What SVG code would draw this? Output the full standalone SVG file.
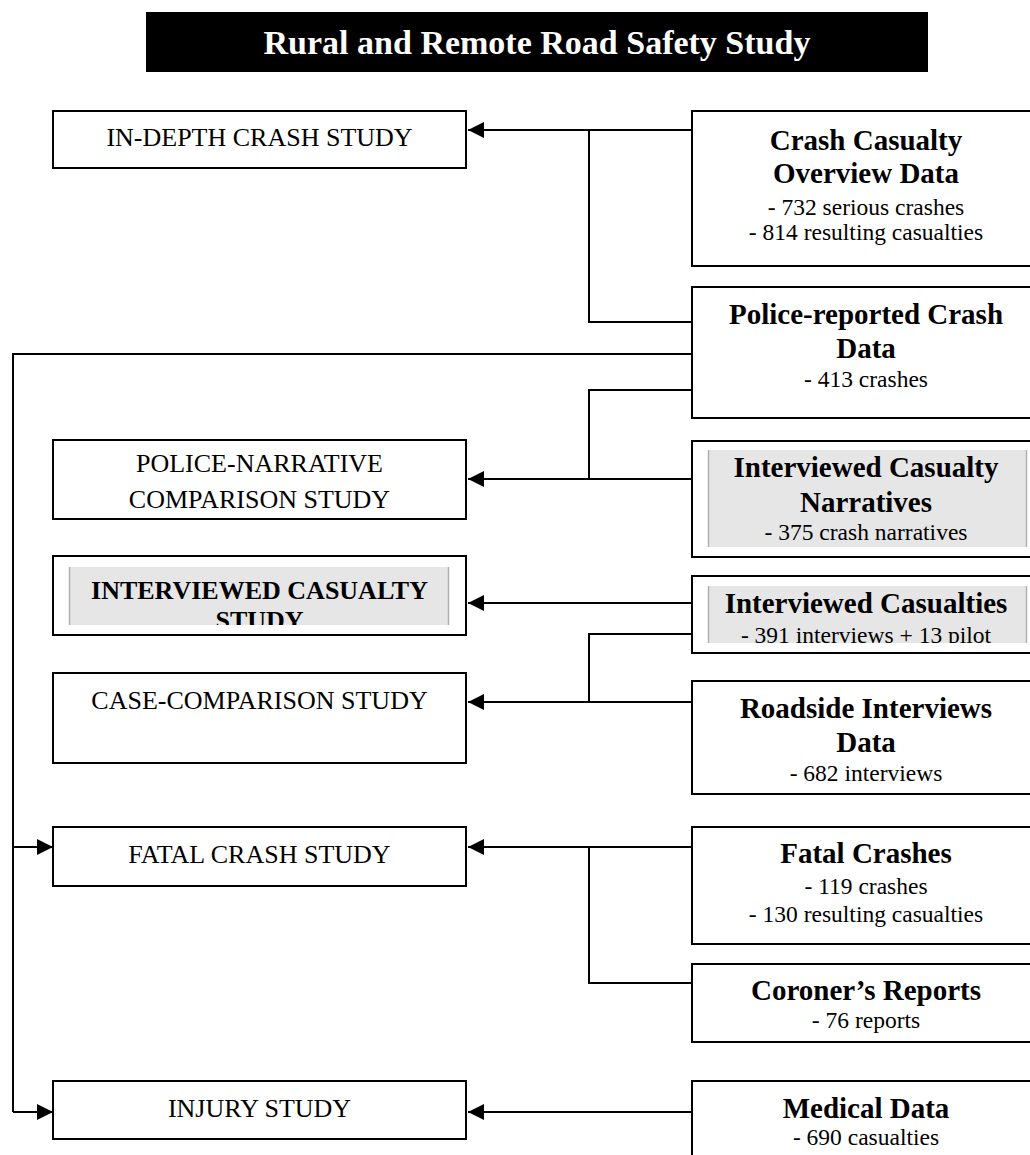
<svg xmlns="http://www.w3.org/2000/svg" width="1030" height="1155" viewBox="0 0 1030 1155">
<style>
.box{fill:#fff;stroke:#000;stroke-width:2}
.gray{fill:#e6e6e6}
.gedge{stroke:#b0b0b0;stroke-width:1.5}
.ln{fill:none;stroke:#000;stroke-width:2}
.lt{font-family:"Liberation Serif","Times New Roman",serif;font-size:26px;text-anchor:middle;fill:#000}
.lb{font-family:"Liberation Serif","Times New Roman",serif;font-size:26px;font-weight:bold;text-anchor:middle;fill:#000}
.h{font-family:"Liberation Serif","Times New Roman",serif;font-size:29px;font-weight:bold;text-anchor:middle;fill:#000}
.s{font-family:"Liberation Serif","Times New Roman",serif;font-size:23.5px;text-anchor:middle;fill:#000}
.title{font-family:"Liberation Serif","Times New Roman",serif;font-size:34px;font-weight:bold;text-anchor:middle;fill:#fff}
</style>
<defs>
<marker id="arr" markerUnits="userSpaceOnUse" markerWidth="16" markerHeight="16" viewBox="0 0 16 16" refX="16" refY="8" orient="auto">
<path d="M0,0 L16,8 L0,16 Z" fill="#000"/>
</marker>
<clipPath id="clipICS"><rect x="69" y="567" width="380" height="58"/></clipPath>
<clipPath id="clipIC"><rect x="708" y="586" width="319" height="57"/></clipPath>
</defs>
<rect width="1030" height="1155" fill="#fff"/>

<g id="title">
<rect x="146" y="12" width="782" height="60" fill="#000"/>
<text class="title" x="537" y="54">Rural and Remote Road Safety Study</text>
</g>

<g id="connectors">
<line class="ln" x1="692" y1="130" x2="468" y2="130" marker-end="url(#arr)"/>
<polyline class="ln" points="589,130 589,322 692,322"/>
<polyline class="ln" points="692,354 13,354 13,1112"/>
<line class="ln" x1="13" y1="847" x2="53" y2="847" marker-end="url(#arr)"/>
<line class="ln" x1="13" y1="1112" x2="53" y2="1112" marker-end="url(#arr)"/>
<polyline class="ln" points="692,390 589,390 589,479"/>
<line class="ln" x1="692" y1="479" x2="468" y2="479" marker-end="url(#arr)"/>
<line class="ln" x1="692" y1="603" x2="468" y2="603" marker-end="url(#arr)"/>
<polyline class="ln" points="692,634 589,634 589,702"/>
<line class="ln" x1="692" y1="702" x2="468" y2="702" marker-end="url(#arr)"/>
<line class="ln" x1="692" y1="847" x2="468" y2="847" marker-end="url(#arr)"/>
<polyline class="ln" points="589,847 589,983 692,983"/>
<line class="ln" x1="692" y1="1112" x2="468" y2="1112" marker-end="url(#arr)"/>
</g>

<g id="in-depth">
<rect class="box" x="53" y="111" width="413" height="57"/>
<text class="lt" x="259.5" y="146">IN-DEPTH CRASH STUDY</text>
</g>
<g id="police-narrative">
<rect class="box" x="53" y="440" width="413" height="79"/>
<text class="lt" x="259.5" y="472">POLICE-NARRATIVE</text>
<text class="lt" x="259.5" y="508">COMPARISON STUDY</text>
</g>
<g id="interviewed-casualty-study">
<rect class="box" x="53" y="556" width="413" height="79"/>
<rect class="gray" x="69" y="567" width="380" height="58"/>
<line class="gedge" x1="69.5" y1="567" x2="69.5" y2="625"/>
<line class="gedge" x1="448.5" y1="567" x2="448.5" y2="625"/>
<g clip-path="url(#clipICS)">
<text class="lb" x="259.5" y="599">INTERVIEWED CASUALTY<tspan x="259.5" dy="30">STUDY</tspan></text>
</g>
</g>
<g id="case-comparison">
<rect class="box" x="53" y="673" width="413" height="90"/>
<text class="lt" x="259.5" y="709">CASE-COMPARISON STUDY</text>
</g>
<g id="fatal-crash-study">
<rect class="box" x="53" y="827" width="413" height="59"/>
<text class="lt" x="259.5" y="863">FATAL CRASH STUDY</text>
</g>
<g id="injury-study">
<rect class="box" x="53" y="1081" width="413" height="58"/>
<text class="lt" x="259.5" y="1117">INJURY STUDY</text>
</g>

<g id="crash-casualty-overview">
<rect class="box" x="692" y="111" width="360" height="155"/>
<text class="h" x="866" y="150">Crash Casualty</text>
<text class="h" x="866" y="183">Overview Data</text>
<text class="s" x="866" y="215">- 732 serious crashes</text>
<text class="s" x="866" y="240">- 814 resulting casualties</text>
</g>
<g id="police-reported">
<rect class="box" x="692" y="287" width="360" height="131"/>
<text class="h" x="866" y="324">Police-reported Crash</text>
<text class="h" x="866" y="358">Data</text>
<text class="s" x="866" y="387">- 413 crashes</text>
</g>
<g id="interviewed-casualty-narratives">
<rect class="box" x="692" y="441" width="360" height="116"/>
<rect class="gray" x="708" y="450" width="319" height="97"/>
<line class="gedge" x1="708.5" y1="450" x2="708.5" y2="547"/>
<line class="gedge" x1="1026.5" y1="450" x2="1026.5" y2="547"/>
<text class="h" x="866" y="477">Interviewed Casualty</text>
<text class="h" x="866" y="512">Narratives</text>
<text class="s" x="866" y="540">- 375 crash narratives</text>
</g>
<g id="interviewed-casualties">
<rect class="box" x="692" y="576" width="360" height="77"/>
<rect class="gray" x="708" y="586" width="319" height="57"/>
<line class="gedge" x1="708.5" y1="586" x2="708.5" y2="643"/>
<line class="gedge" x1="1026.5" y1="586" x2="1026.5" y2="643"/>
<g clip-path="url(#clipIC)">
<text class="h" x="866" y="613">Interviewed Casualties</text>
<text class="s" x="866" y="643">- 391 interviews + 13 pilot</text>
</g>
</g>
<g id="roadside-interviews">
<rect class="box" x="692" y="681" width="360" height="113"/>
<text class="h" x="866" y="718">Roadside Interviews</text>
<text class="h" x="866" y="752">Data</text>
<text class="s" x="866" y="781">- 682 interviews</text>
</g>
<g id="fatal-crashes">
<rect class="box" x="692" y="827" width="360" height="117"/>
<text class="h" x="866" y="863">Fatal Crashes</text>
<text class="s" x="866" y="894">- 119 crashes</text>
<text class="s" x="866" y="922">- 130 resulting casualties</text>
</g>
<g id="coroners-reports">
<rect class="box" x="692" y="964" width="360" height="78"/>
<text class="h" x="866" y="1000">Coroner’s Reports</text>
<text class="s" x="866" y="1028">- 76 reports</text>
</g>
<g id="medical-data">
<rect class="box" x="692" y="1081" width="360" height="100"/>
<text class="h" x="866" y="1118">Medical Data</text>
<text class="s" x="866" y="1145">- 690 casualties</text>
</g>
</svg>
